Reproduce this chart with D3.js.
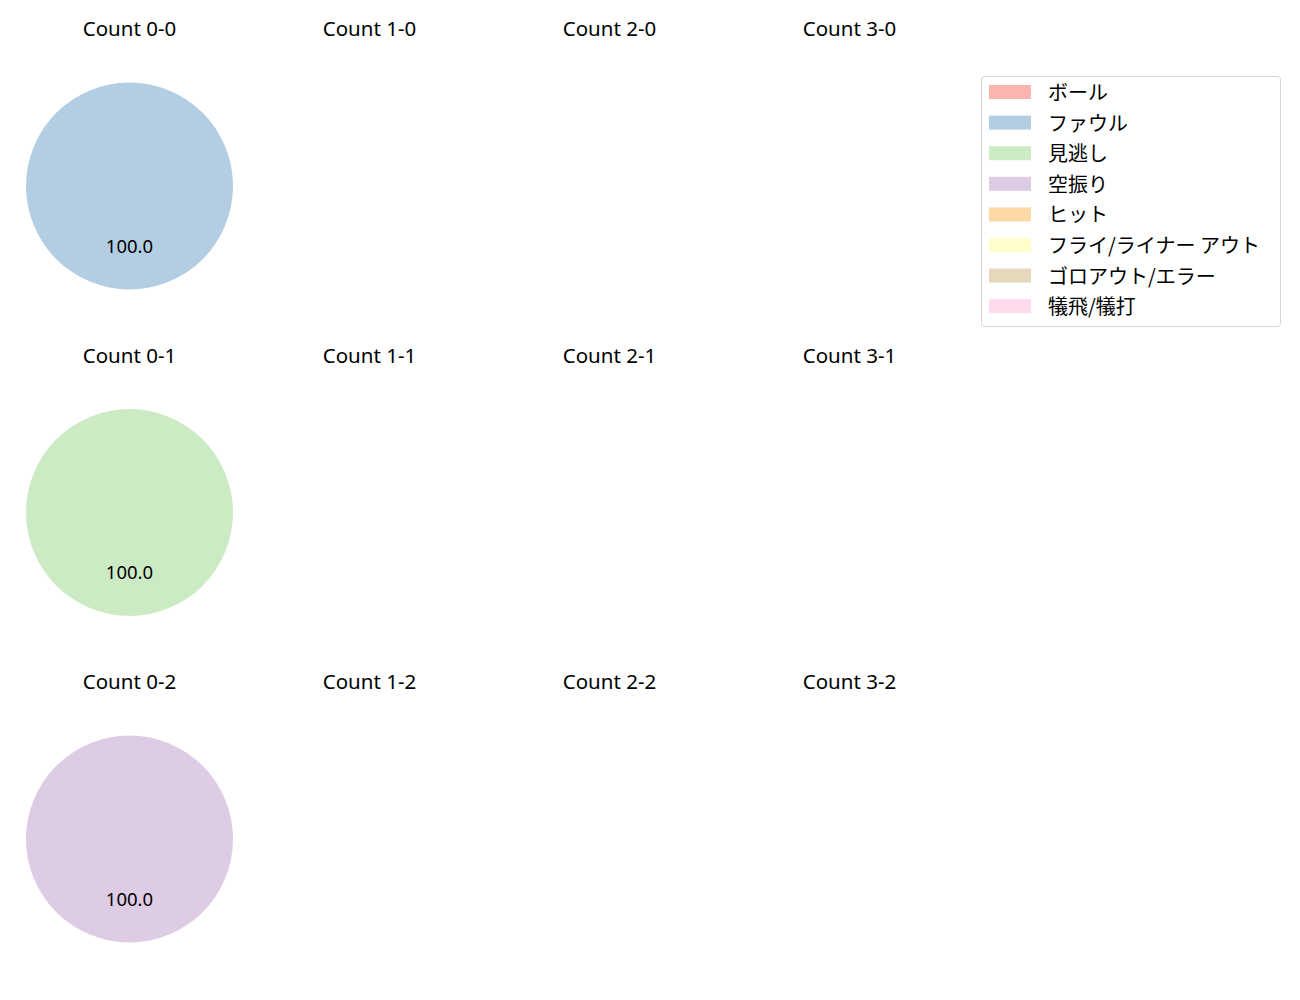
<!DOCTYPE html>
<html>
<head>
<meta charset="utf-8">
<script src="https://cdn.jsdelivr.net/npm/d3@7"></script>
<style>
	body { margin: 0; background: #fff; }
	text { font-family: "Noto Sans", "Noto Sans CJK JP", sans-serif; fill: #000; }
	.legend text { font-family: "Noto Sans CJK JP", "Noto Sans", sans-serif; }
</style>
</head>
<body>
<div id="chart"></div>
<script>
// pitch result categories and their colours (Pastel1)
const categories = ["ボール", "ファウル", "見逃し", "空振り", "ヒット", "フライ/ライナー アウト", "ゴロアウト/エラー", "犠飛/犠打"];
const colors = ["#fbb4ae", "#b3cde3", "#ccebc5", "#decbe4", "#fed9a6", "#ffffcc", "#e5d8bd", "#fddaec"];

const balls = [0, 1, 2, 3];
const strikes = [0, 1, 2];

// share (%) of each category per count, keyed "balls-strikes"; missing = no pitches
const count00 = [0, 100, 0, 0, 0, 0, 0, 0];
const count01 = [0, 0, 100, 0, 0, 0, 0, 0];
const count02 = [0, 0, 0, 100, 0, 0, 0, 0];
const countData = { "0-0": count00, "0-1": count01, "0-2": count02 };

const width = 1300, height = 1000;
const svg = d3.select("#chart").append("svg")
	.attr("width", width)
	.attr("height", height);

const colX = d3.scalePoint().domain(balls).range([129.5, 849.5]);
const rowY = d3.scalePoint().domain(strikes).range([186, 839]);
const radius = 103.5;

const pie = d3.pie().sort(null).value(d => d.value);
const arc = d3.arc().innerRadius(0).outerRadius(radius);
const labelArc = d3.arc().innerRadius(radius * 0.6).outerRadius(radius * 0.6);

strikes.forEach(s => {
	balls.forEach(b => {
		const key = `${b}-${s}`;
		const g = svg.append("g")
			.attr("transform", `translate(${colX(b)},${rowY(s)})`);

		g.append("text")
			.attr("y", -158)
			.attr("text-anchor", "middle")
			.attr("dominant-baseline", "central")
			.style("font-size", "20.5px")
			.text(`Count ${key}`);

		const vals = countData[key];
		if (!vals) return;
		const rows = vals.map((v, i) => ({ value: v, color: colors[i] })).filter(d => d.value > 0);
		const arcs = pie(rows);

		g.selectAll("path").data(arcs).enter()
			.append("path")
			.attr("d", arc)
			.attr("fill", d => d.data.color);

		g.selectAll("text.pct").data(arcs).enter()
			.append("text")
			.attr("class", "pct")
			.attr("transform", d => `translate(${labelArc.centroid(d)})`)
			.attr("y", -3)
			.attr("text-anchor", "middle")
			.attr("dominant-baseline", "central")
			.style("font-size", "18.5px")
			.text(d => d.data.value.toFixed(1));
	});
});

// legend
const legend = svg.append("g").attr("class", "legend").attr("transform", "translate(981.5,76.5)");
legend.append("rect")
	.attr("width", 299)
	.attr("height", 250)
	.attr("rx", 3)
	.attr("fill", "#fff")
	.attr("stroke", "#d5d5d5");

const item = legend.selectAll("g.item").data(categories).enter()
	.append("g")
	.attr("class", "item")
	.attr("transform", (d, i) => `translate(0,${15.5 + i * 30.6})`);

item.append("rect")
	.attr("x", 7.5)
	.attr("y", -7)
	.attr("width", 42)
	.attr("height", 14)
	.attr("fill", (d, i) => colors[i]);

item.append("text")
	.attr("x", 66.5)
	.attr("y", -0.5)
	.attr("dominant-baseline", "central")
	.style("font-size", "20px")
	.text(d => d);
</script>
</body>
</html>
